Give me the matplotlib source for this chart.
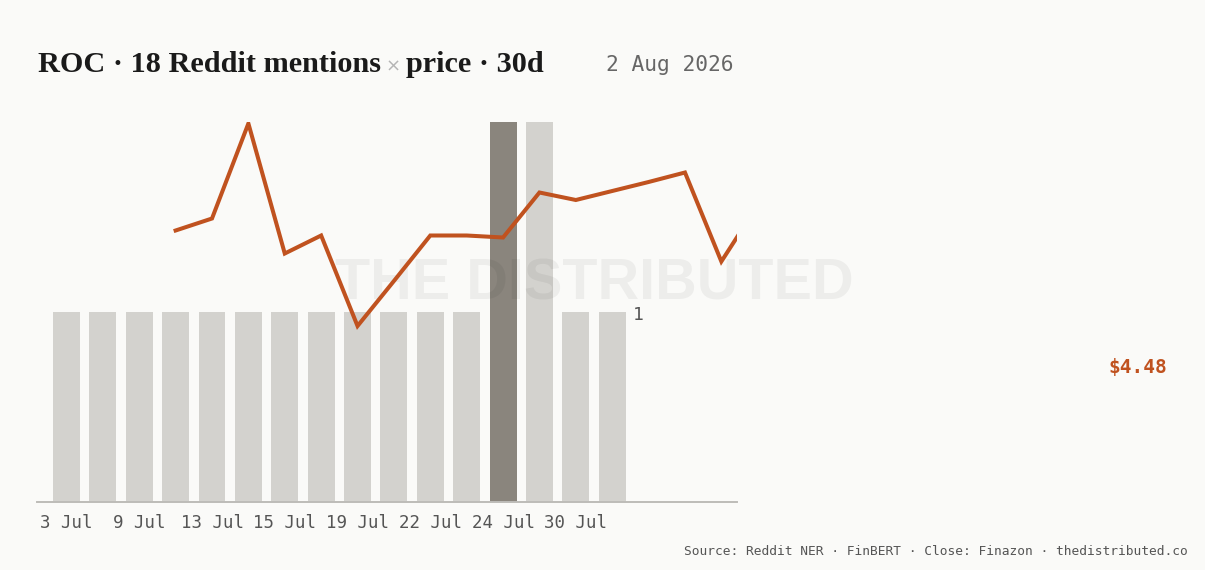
import matplotlib
matplotlib.use("Agg")
import matplotlib.pyplot as plt

# mentions per day (band scale, one bar per day with mentions)
bar_counts = [1, 1, 1, 1, 1, 1, 1, 1, 1, 1, 1, 1, 2, 2, 1, 1]
highlight_bar = 12
tick_labels = ["3 Jul", "9 Jul", "13 Jul", "15 Jul", "19 Jul", "22 Jul", "24 Jul", "30 Jul"]

# closing price, starts at the 4th band
price_start = 3
prices = [4.429, 4.453, 4.643, 4.383, 4.419, 4.238, 4.328, 4.419, 4.419, 4.415,
          4.505, 4.490, 4.508, 4.526, 4.545, 4.367, 4.480]
last_price = "$4.48"

title_left = "ROC · 18 Reddit mentions"
title_right = "price · 30d"
date_text = "2 Aug 2026"
source_text = "Source: Reddit NER · FinBERT · Close: Finazon · thedistributed.co"

BG = "#fafaf8"
BAR = "#d3d2ce"
BAR_HI = "#8a857d"
LINE = "#c0521f"
MONO = "DejaVu Sans Mono"

W, H = 1205, 570
fig = plt.figure(figsize=(W / 100, H / 100), dpi=100, facecolor=BG)
ax = fig.add_axes([37 / W, (H - 502) / H, 700 / W, 380 / H])
ax.set_facecolor("none")

xs = list(range(len(bar_counts)))
colors = [BAR_HI if i == highlight_bar else BAR for i in xs]
ax.bar(xs, bar_counts, width=0.74, color=colors, zorder=2)
ax.set_xlim(-0.81, 18.43)
ax.set_ylim(0, 2)

for s in ["top", "right", "left"]:
    ax.spines[s].set_visible(False)
ax.spines["bottom"].set_color("#bdbcb8")
ax.spines["bottom"].set_linewidth(1.4)
ax.set_yticks([])
ax.set_xticks(xs[::2])
ax.set_xticklabels(tick_labels, fontfamily=MONO, fontsize=12.5, color="#555555")
ax.tick_params(axis="x", length=0, pad=9)

ax.annotate("1", xy=(len(bar_counts) - 1 + 0.37, 1), xytext=(5, -2),
            textcoords="offset points", va="center", ha="left",
            fontfamily=MONO, fontsize=13, color="#555555")

# watermark, faint and over the bars
ax.text(335 / W, (H - 284) / H, "THE DISTRIBUTED", transform=fig.transFigure,
        fontfamily="Liberation Sans", fontweight="bold", fontsize=41.5,
        color="black", alpha=0.05, ha="left", va="center", zorder=2.5, clip_on=False)

ax2 = ax.twinx()
ax2.set_ylim(3.886, 4.646)
ax2.axis("off")
px = list(range(price_start, price_start + len(prices)))
ax2.plot(px, prices, color=LINE, linewidth=2.9, solid_joinstyle="miter", zorder=3)

# title in pieces
fig.canvas.draw()
r = fig.canvas.get_renderer()
ty = (H - 72) / H
t1 = fig.text(38 / W, ty, title_left, fontfamily="Liberation Serif",
              fontweight="bold", fontsize=21.8, color="#1a1a1a", va="baseline")
x1 = t1.get_window_extent(r).x1
t2 = fig.text((x1 + 5) / W, ty, "×", fontfamily="DejaVu Sans", fontsize=13,
              color="#b5b5b5", va="baseline")
x2 = t2.get_window_extent(r).x1
fig.text((x2 + 5) / W, ty, title_right, fontfamily="Liberation Serif",
         fontweight="bold", fontsize=21.8, color="#1a1a1a", va="baseline")

fig.text(606 / W, (H - 71) / H, date_text, fontfamily=MONO, fontsize=15.3,
         color="#666666", va="baseline")
fig.text(1167 / W, (H - 367) / H, last_price, fontfamily=MONO, fontsize=14,
         fontweight="bold", color=LINE, ha="right", va="center")
fig.text(1188 / W, (H - 555) / H, source_text, fontfamily=MONO, fontsize=9.25,
         color="#555555", ha="right", va="baseline")

fig.savefig("out.png", dpi=100, facecolor=BG)
